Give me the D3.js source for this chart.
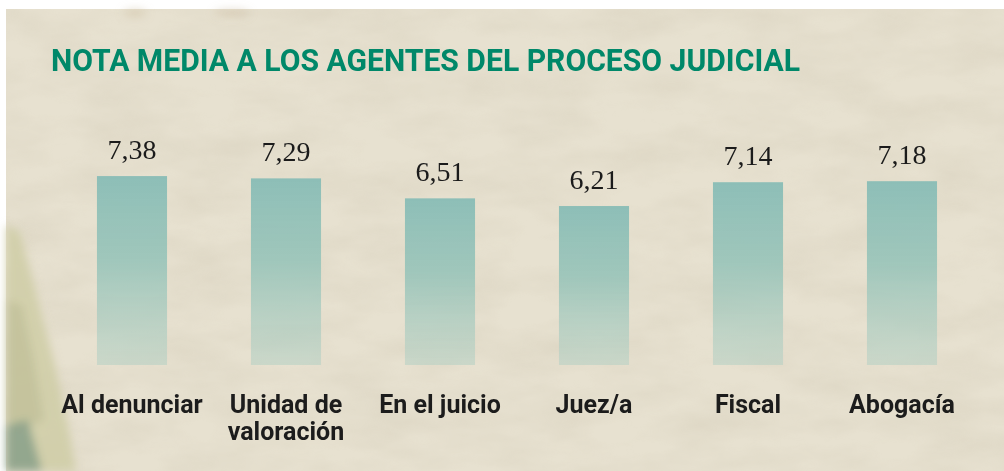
<!DOCTYPE html>
<html>
<head>
<meta charset="utf-8">
<script src="https://cdn.jsdelivr.net/npm/d3@7"></script>
<style>
  html, body { margin: 0; padding: 0; background: #fff; }
  svg { display: block; }
</style>
</head>
<body>
<svg id="chart"></svg>
<script>
const ctx = {
  width: 1004,
  height: 471,
  title: "NOTA MEDIA A LOS AGENTES DEL PROCESO JUDICIAL"
};

// data
const categories = ["Al denunciar", "Unidad de\nvaloración", "En el juicio", "Juez/a", "Fiscal", "Abogacía"];
const values = [7.38, 7.29, 6.51, 6.21, 7.14, 7.18];
const valueLabels = ["7,38", "7,29", "6,51", "6,21", "7,14", "7,18"];

const svg = d3.select("#chart")
  .attr("width", ctx.width)
  .attr("height", ctx.height);

const defs = svg.append("defs");

// paper texture
const paper = defs.append("filter")
  .attr("id", "paper")
  .attr("x", 0).attr("y", 0).attr("width", 1).attr("height", 1);
paper.append("feTurbulence")
  .attr("type", "fractalNoise")
  .attr("baseFrequency", "0.012 0.03")
  .attr("numOctaves", 4)
  .attr("seed", 7)
  .attr("result", "noise");
paper.append("feColorMatrix")
  .attr("in", "noise")
  .attr("type", "matrix")
  .attr("values", "0 0 0 0 0.55  0 0 0 0 0.50  0 0 0 0 0.38  0 0 0 -1.1 0.75");

const blur = defs.append("filter").attr("id", "blur");
blur.append("feGaussianBlur").attr("stdDeviation", 4);

const grad = defs.append("linearGradient")
  .attr("id", "barGrad")
  .attr("x1", 0).attr("y1", 0).attr("x2", 0).attr("y2", 1);
grad.append("stop").attr("offset", "0%").attr("stop-color", "#8dbeb7").attr("stop-opacity", 1);
grad.append("stop").attr("offset", "45%").attr("stop-color", "#9cc5ba").attr("stop-opacity", 0.95);
grad.append("stop").attr("offset", "100%").attr("stop-color", "#b4d0c4").attr("stop-opacity", 0.55);

// background
svg.append("rect")
  .attr("x", 6).attr("y", 9)
  .attr("width", ctx.width - 6).attr("height", ctx.height - 9)
  .attr("fill", "#e7e1d0");
svg.append("rect")
  .attr("x", 6).attr("y", 9)
  .attr("width", ctx.width - 6).attr("height", ctx.height - 9)
  .attr("filter", "url(#paper)")
  .attr("opacity", 0.35);

// faint painting in the lower left corner and marks on top
const deco = svg.append("g").attr("filter", "url(#blur)");
deco.append("path")
  .attr("d", "M6,225 L20,232 L38,300 L55,365 L68,425 L76,471 L6,471 Z")
  .attr("fill", "#cfcca6").attr("opacity", 0.85);
deco.append("path")
  .attr("d", "M6,300 L22,305 L34,360 L44,420 L20,430 L6,420 Z")
  .attr("fill", "#bdbb94").attr("opacity", 0.6);
deco.append("path")
  .attr("d", "M6,425 L28,420 L42,471 L6,471 Z")
  .attr("fill", "#7f9a86").attr("opacity", 0.75);
deco.append("ellipse")
  .attr("cx", 135).attr("cy", 13).attr("rx", 12).attr("ry", 4)
  .attr("fill", "#cdbb9c").attr("opacity", 0.45);
deco.append("ellipse")
  .attr("cx", 232).attr("cy", 13).attr("rx", 18).attr("ry", 4)
  .attr("fill", "#c4b297").attr("opacity", 0.4);

// title
svg.append("text")
  .attr("x", 51)
  .attr("y", 71)
  .attr("textLength", 749)
  .attr("lengthAdjust", "spacingAndGlyphs")
  .style("font-family", "Roboto, 'Open Sans', sans-serif")
  .style("font-weight", 700)
  .style("font-size", "32px")
  .attr("fill", "#008869")
  .text(ctx.title);

// scales
const x = d3.scaleBand()
  .domain(categories)
  .range([55, 979])
  .paddingInner(0.545)
  .paddingOuter(0.2725);

const y = d3.scaleLinear()
  .domain([0, 10])
  .range([365, 109]);

const data = categories.map((c, i) => ({ cat: c, value: values[i], label: valueLabels[i] }));

// bars
svg.selectAll("rect.bar")
  .data(data)
  .enter()
  .append("rect")
    .attr("class", "bar")
    .attr("x", d => x(d.cat))
    .attr("y", d => y(d.value))
    .attr("width", x.bandwidth())
    .attr("height", d => y(0) - y(d.value))
    .attr("fill", "url(#barGrad)");

// value labels
svg.selectAll("text.value")
  .data(data)
  .enter()
  .append("text")
    .attr("class", "value")
    .attr("x", d => x(d.cat) + x.bandwidth() / 2)
    .attr("y", d => y(d.value) - 17)
    .attr("text-anchor", "middle")
    .style("font-family", "'Liberation Serif', 'DejaVu Serif', serif")
    .style("font-size", "28px")
    .attr("fill", "#1b1b1b")
    .text(d => d.label);

// category labels
const catText = svg.selectAll("text.cat")
  .data(data)
  .enter()
  .append("text")
    .attr("class", "cat")
    .attr("x", d => x(d.cat) + x.bandwidth() / 2)
    .attr("y", 413)
    .attr("text-anchor", "middle")
    .style("font-family", "Roboto, 'Open Sans', sans-serif")
    .style("font-weight", 700)
    .style("font-size", "25px")
    .attr("fill", "#1c1c1c");

catText.each(function(d) {
  const lines = d.cat.split("\n");
  lines.forEach((line, i) => {
    d3.select(this).append("tspan")
      .attr("x", x(d.cat) + x.bandwidth() / 2)
      .attr("dy", i === 0 ? 0 : 27)
      .text(line);
  });
});
</script>
</body>
</html>
